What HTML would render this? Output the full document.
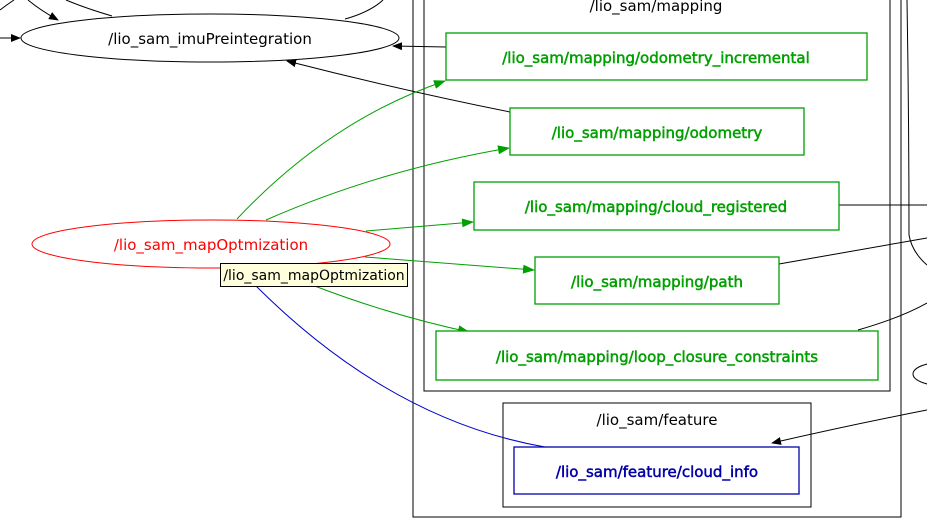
<!DOCTYPE html>
<html><head><meta charset="utf-8"><style>
html,body{margin:0;padding:0;background:#fff;}
svg{display:block;}
text{font-family:"DejaVu Sans","Liberation Sans",sans-serif;font-size:15px;}
</style></head><body>
<svg width="927" height="527" viewBox="0 0 927 527" xmlns="http://www.w3.org/2000/svg">
<defs>
<marker id="ak" markerWidth="10" markerHeight="8" refX="9" refY="4" orient="auto" markerUnits="userSpaceOnUse"><path d="M0,0 L10,4 L0,8z" fill="#000"/></marker>
<marker id="ag" markerWidth="12" markerHeight="9" refX="11" refY="4.5" orient="auto" markerUnits="userSpaceOnUse"><path d="M0,0 L12,4.5 L0,9z" fill="#00a000"/></marker>
</defs>
<rect x="413" y="-5" width="488" height="522" fill="none" stroke="#000" stroke-width="1"/>
<rect x="424" y="-5" width="466" height="396" fill="none" stroke="#000" stroke-width="1"/>
<text x="656" y="11" text-anchor="middle">/lio_sam/mapping</text>
<rect x="503" y="403" width="308" height="104" fill="none" stroke="#000"/>
<text x="657" y="425" text-anchor="middle">/lio_sam/feature</text>
<path d="M0,10 Q8,4 14,0" fill="none" stroke="#000"/>
<path d="M28,0 Q40,10 58,20" fill="none" stroke="#000" marker-end="url(#ak)"/>
<path d="M66,0 Q85,8 112,16" fill="none" stroke="#000"/>
<path d="M383,0 Q370,12 345,19" fill="none" stroke="#000"/>
<path d="M0,38 L20,38" fill="none" stroke="#000" marker-end="url(#ak)"/>
<ellipse cx="210" cy="38" rx="189" ry="24" fill="#fff" stroke="#000"/>
<text x="210" y="44" text-anchor="middle">/lio_sam_imuPreintegration</text>
<path d="M446,47 L393,46" fill="none" stroke="#000" marker-end="url(#ak)"/>
<path d="M510,112 Q400,90 287,61" fill="none" stroke="#000" marker-end="url(#ak)"/>
<path d="M839,205 L927,205" fill="none" stroke="#000"/>
<path d="M779,264 L927,238" fill="none" stroke="#000"/>
<path d="M858,330 Q900,318 927,303" fill="none" stroke="#000"/>
<path d="M927,410 Q850,425 772,443" fill="none" stroke="#000" marker-end="url(#ak)"/>
<path d="M907,0 Q909,120 909,235 Q912,252 927,265" fill="none" stroke="#000"/>
<ellipse cx="945" cy="374" rx="32" ry="12" fill="#fff" stroke="#000"/>
<path d="M237,219 Q330,120 445,81" fill="none" stroke="#00a000" marker-end="url(#ag)"/>
<path d="M266,220 Q380,170 509,148" fill="none" stroke="#00a000" marker-end="url(#ag)"/>
<path d="M366,231 L473,222" fill="none" stroke="#00a000" marker-end="url(#ag)"/>
<path d="M365,257 L534,270" fill="none" stroke="#00a000" marker-end="url(#ag)"/>
<path d="M312,285 Q390,315 469,332" fill="none" stroke="#00a000" marker-end="url(#ag)"/>
<path d="M255,285 Q390,420 545,447" fill="none" stroke="#0000cc"/>
<g fill="#fff" stroke="#00a000" stroke-width="1.3">
<rect x="446" y="33" width="421" height="47"/>
<rect x="510" y="108" width="294" height="47"/>
<rect x="474" y="182" width="365" height="48"/>
<rect x="535" y="257" width="244" height="47"/>
<rect x="436" y="331" width="442" height="49"/>
</g>
<g fill="#00a000" stroke="#00a000" stroke-width="0.5" text-anchor="middle">
<text x="656" y="63">/lio_sam/mapping/odometry_incremental</text>
<text x="657" y="138">/lio_sam/mapping/odometry</text>
<text x="656" y="212">/lio_sam/mapping/cloud_registered</text>
<text x="657" y="287">/lio_sam/mapping/path</text>
<text x="657" y="362">/lio_sam/mapping/loop_closure_constraints</text>
</g>
<rect x="514" y="447" width="285" height="47" fill="#fff" stroke="#0000aa" stroke-width="1.3"/>
<text x="657" y="477" text-anchor="middle" fill="#0000aa" stroke="#0000aa" stroke-width="0.5">/lio_sam/feature/cloud_info</text>
<ellipse cx="211" cy="244" rx="179" ry="24" fill="#fff" stroke="#ff0000"/>
<text x="211" y="250" text-anchor="middle" fill="#ff0000">/lio_sam_mapOptmization</text>
<rect x="220.5" y="263.5" width="187" height="23" fill="#ffffdc" stroke="#000"/>
<text x="314" y="280" text-anchor="middle" style="font-size:14px">/lio_sam_mapOptmization</text>
</svg>
</body></html>
